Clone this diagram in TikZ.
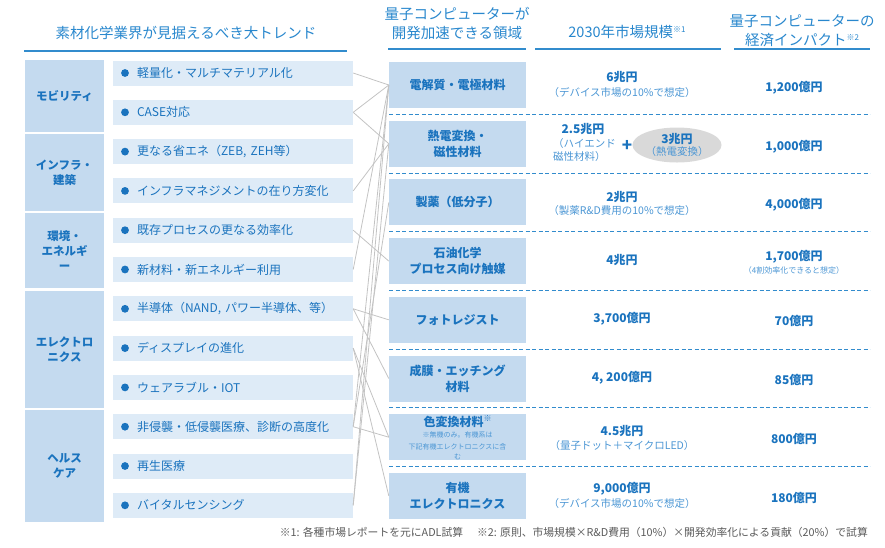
\documentclass[tikz,border=0pt]{standalone}
\usepackage{fontspec}
\setmainfont{Noto Sans CJK JP}
\usetikzlibrary{shapes.geometric}
\definecolor{catblue}{RGB}{196,218,239}
\definecolor{itemblue}{RGB}{222,235,247}
\definecolor{txtblue}{RGB}{26,115,190}
\definecolor{hdrblue}{RGB}{40,135,205}
\definecolor{subblue}{RGB}{75,150,212}
\definecolor{ruleblue}{RGB}{50,140,205}
\definecolor{linkgray}{RGB}{195,195,195}
\definecolor{ellgray}{RGB}{217,217,217}
\definecolor{notegray}{RGB}{90,90,90}
\newcommand{\supmark}[1]{\raisebox{5pt}{\fontsize{8}{8}\selectfont #1}}
\newcommand{\tinynote}{\mdseries\fontsize{7}{10}\selectfont\color{subblue}}
\tikzset{
  head/.style={text=hdrblue, font=\fontsize{14.5}{19}\selectfont, align=center, inner sep=0pt},
  rule/.style={draw=ruleblue, line width=1.5pt},
  cat/.style={fill=catblue, text=txtblue, font=\bfseries\fontsize{11.5}{15}\selectfont,
    align=center, minimum width=79pt, inner sep=0pt},
  item/.style={fill=itemblue, text=txtblue, font=\fontsize{12}{14}\selectfont,
    minimum height=25pt, text width=216pt, inner xsep=12pt, inner ysep=0pt, align=left,
    execute at begin node={\hspace*{12pt}},
    path picture={\fill[txtblue] ([xshift=12pt]path picture bounding box.west) circle (3.9pt);}},
  area/.style={fill=catblue, text=txtblue, font=\bfseries\fontsize{12}{16}\selectfont,
    align=center, minimum width=137pt, minimum height=46pt, inner sep=0pt},
  val/.style={text=txtblue, font=\bfseries\fontsize{12}{14}\selectfont, inner sep=0pt},
  sub/.style={text=subblue, font=\fontsize{10.5}{13}\selectfont, inner sep=0pt, align=center},
  sep/.style={draw=ruleblue, dash pattern=on 4pt off 2.5pt, line width=1pt},
  link/.style={draw=linkgray, line width=0.8pt},
}
\begin{document}
\begin{tikzpicture}[x=1pt,y=-1pt]
\useasboundingbox (0,0) rectangle (885,547);

% column heads
\node[head] (h1) at (186,33) {素材化学業界が見据えるべき大トレンド};
\node[head] (h2) at (457,23.5) {量子コンピューターが\\開発加速できる領域};
\node[head] (h3) at (627,32) {2030年市場規模\supmark{※1}};
\node[head] (h4) at (802,30.5) {量子コンピューターの\\経済インパクト\supmark{※2}};
\draw[rule] (24,51) -- (347,51);
\draw[rule] (388,49) -- (526,49);
\draw[rule] (535,49) -- (721,49);
\draw[rule] (734,49) -- (870,49);

% trends
\node[cat, minimum height=72pt] (k1) at (64.5,96) {モビリティ};
\node[cat, minimum height=77pt] (k2) at (64.5,172.5) {インフラ・\\建築};
\node[cat, minimum height=75pt] (k3) at (64.5,250.5) {環境・\\エネルギ\\ー};
\node[cat, minimum height=117pt] (k4) at (64.5,349.5) {エレクトロ\\ニクス};
\node[cat, minimum height=112pt] (k5) at (64.5,466) {ヘルス\\ケア};

\foreach \t [count=\i] in {軽量化・マルチマテリアル化, CASE対応, {更なる省エネ（ZEB, ZEH等）},
    インフラマネジメントの在り方変化, 既存プロセスの更なる効率化, 新材料・新エネルギー利用,
    {半導体（NAND, パワー半導体、等）}, ディスプレイの進化, ウェアラブル・IOT,
    非侵襲・低侵襲医療、診断の高度化, 再生医療, バイタルセンシング}
  \node[item] (t\i) at (233,{73+39.3*(\i-1)}) {\t};

% fields
\foreach \t [count=\i] in {電解質・電極材料, 熱電変換・\\磁性材料, 製薬（低分子）,
    石油化学\\プロセス向け触媒, フォトレジスト, 成膜・エッチング\\材料}
  \node[area] (a\i) at (457.5,{85+58.7*(\i-1)}) {\t};
\node[area] (a7) at (457.5,437.2) {色変換材料\supmark{※}\\[-5pt]
  \tinynote ※無機のみ。有機系は\\[-4pt]\tinynote 下記有機エレクトロニクスに含\\[-6pt]\tinynote む};
\node[area] (a8) at (457.5,495.9) {有機\\エレクトロニクス};

\foreach \y in {114.4,173.1,231.8,290.5,349.2,407.9,466.6}
  \draw[sep] (389,\y) -- (870,\y);

% links
\foreach \s/\e in {t1/a1, t2/a1, t2/a2, t4/a2, t5/a4, t6/a1, t7/a5, t7/a6,
    t8/a7, t8/a8, t10/a7, t10/a3, t10/a1, t12/a1, t12/a2}
  \draw[link] (\s.east) -- (\e.west);

% market size
\node[val] (m1) at (622,77) {6兆円};
\node[sub] (n1) at (622,93) {（デバイス市場の10\%で想定）};
\node[val] (m2) at (583,129) {2.5兆円};
\node[sub, align=left, anchor=north west] (n2) at (553,138) {（ハイエンド\\磁性材料）};
\node[val, font=\bfseries\fontsize{17}{17}\selectfont] (p2) at (627,146) {+};
\node[ellipse, fill=ellgray, minimum width=69pt, minimum height=35pt, inner sep=0pt,
  align=center] (e2) at (677,145)
  {{\color{txtblue}\bfseries\fontsize{12}{14}\selectfont 3兆円}\\
   {\color{subblue}\fontsize{10.5}{12}\selectfont （熱電変換）}};
\node[val] (m3) at (622,197) {2兆円};
\node[sub] (n3) at (622,211) {（製薬R\&D費用の10\%で想定）};
\node[val] (m4) at (622,260) {4兆円};
\node[val] (m5) at (622,319) {3,700億円};
\node[val] (m6) at (622,378) {4, 200億円};
\node[val] (m7) at (622,431) {4.5兆円};
\node[sub] (n7) at (622,445) {（量子ドット＋マイクロLED）};
\node[val] (m8) at (622,489) {9,000億円};
\node[sub] (n8) at (622,503) {（デバイス市場の10\%で想定）};

% impact
\node[val] (c1) at (794,88) {1,200億円};
\node[val] (c2) at (794,147) {1,000億円};
\node[val] (c3) at (794,205) {4,000億円};
\node[val] (c4) at (794,257) {1,700億円};
\node[sub, font=\fontsize{8}{10}\selectfont] (d4) at (794,270) {（4割効率化できると想定）};
\node[val] (c5) at (794,321) {70億円};
\node[val] (c6) at (794,380) {85億円};
\node[val] (c7) at (794,439) {800億円};
\node[val] (c8) at (794,498) {180億円};

\node[text=notegray, font=\fontsize{10.8}{12}\selectfont, inner sep=0pt, anchor=east] (fn) at (868,532)
  {※1: 各種市場レポートを元にADL試算\hspace{14pt}※2: 原則、市場規模×R\&D費用（10\%）×開発効率化による貢献（20\%）で試算};
\end{tikzpicture}
\end{document}
